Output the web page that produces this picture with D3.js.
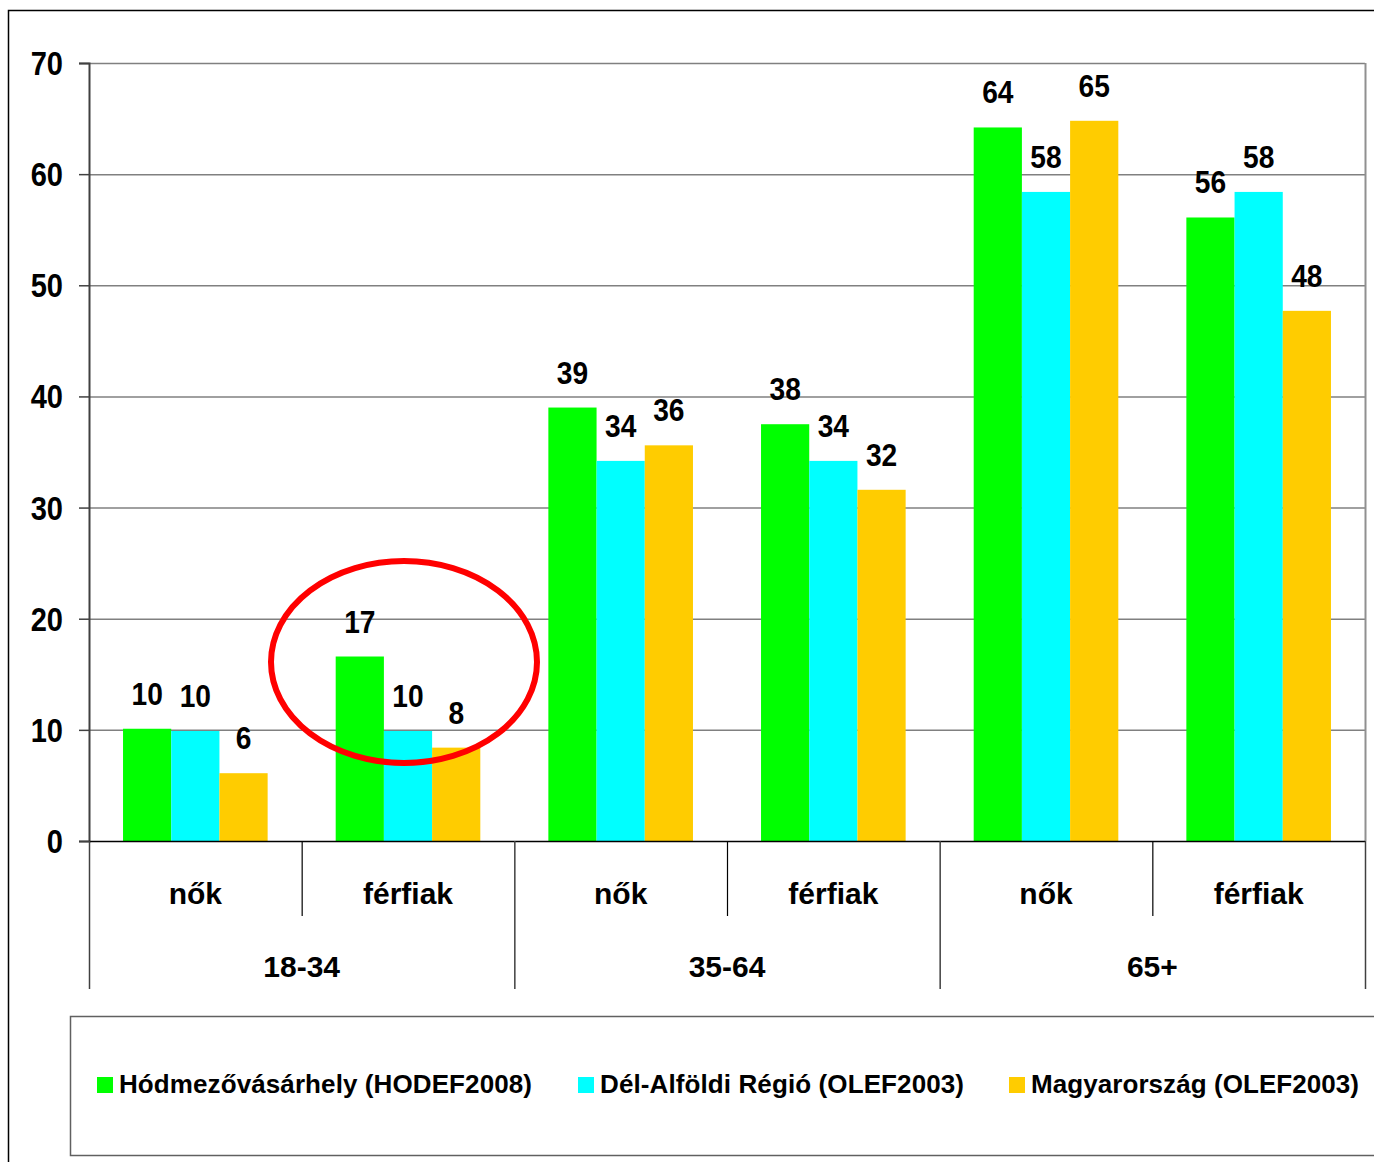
<!DOCTYPE html>
<html><head><meta charset="utf-8">
<script src="https://cdn.jsdelivr.net/npm/d3@7"></script>
<style>
html,body{margin:0;padding:0;background:#fff;}
text{font-family:"Liberation Sans",Arial,sans-serif;font-weight:bold;fill:#000;}
</style></head>
<body><svg id="c" width="1374" height="1162"></svg>
<script>
const categories = ["nők","férfiak","nők","férfiak","nők","férfiak"];
const groups = ["18-34","35-64","65+"];
const seriesNames = ["Hódmezővásárhely (HODEF2008)","Dél-Alföldi Régió (OLEF2003)","Magyarország (OLEF2003)"];
const seriesColors = ["#00ff00","#00ffff","#ffcc00"];
const hodValues = [10.1, 16.6, 39.0, 37.5, 64.2, 56.1];
const delValues = [9.9, 9.9, 34.2, 34.2, 58.4, 58.4];
const magValues = [6.1, 8.4, 35.6, 31.6, 64.8, 47.7];
const yTicks = [0,10,20,30,40,50,60,70];

const series = [hodValues, delValues, magValues];
const svg = d3.select("#c");

// outer frame
svg.append("rect").attr("x",8.5).attr("y",10.5).attr("width",1400).attr("height",1200)
  .attr("fill","none").attr("stroke","#000").attr("stroke-width",1.5);

const L=89, R=1365, T=63, B=841;
const y = d3.scaleLinear().domain([0,70]).range([B,T]);
const x = d3.scaleBand().domain(d3.range(categories.length)).range([L,R]);
const bw = x.bandwidth();
const x1 = d3.scaleBand().domain(d3.range(series.length)).range([bw*0.16, bw*0.84]);

// gridlines
svg.append("g").selectAll("line").data(yTicks.filter(t=>t>0)).join("line")
  .attr("x1",L).attr("x2",R).attr("y1",d=>y(d)+0.5).attr("y2",d=>y(d)+0.5)
  .attr("stroke","#808080").attr("stroke-width",1.5);
// right border of plot
svg.append("line").attr("x1",R+0.5).attr("x2",R+0.5).attr("y1",T).attr("y2",B)
  .attr("stroke","#909090").attr("stroke-width",2);

// bars
series.forEach((vals,si)=>{
  svg.append("g").selectAll("rect").data(vals).join("rect")
    .attr("x",(d,i)=>x(i)+x1(si)).attr("width",x1.bandwidth())
    .attr("y",d=>y(d)).attr("height",d=>B-y(d))
    .attr("fill",seriesColors[si]);
});

// y axis
const yAxis = d3.axisLeft(y).tickValues(yTicks).tickSize(10).tickPadding(16).tickFormat(d3.format("d"));
const gy = svg.append("g").attr("transform",`translate(${L},0)`).call(yAxis);
gy.select(".domain").attr("stroke","#404040").attr("stroke-width",2);
gy.selectAll(".tick line").attr("stroke","#404040").attr("stroke-width",1.5);
gy.selectAll(".tick text")
  .style("font-size","33px").style("font-family","Liberation Sans, Arial, sans-serif").style("font-weight","bold")
  .attr("fill","#000").attr("x",0).attr("dy","0.35em")
  .attr("transform","translate(-26,0) scale(0.88,1)");

// baseline
svg.append("line").attr("x1",L).attr("x2",R).attr("y1",B+0.5).attr("y2",B+0.5).attr("stroke","#000").attr("stroke-width",1.5);

// x axis category labels and separators
const xg = svg.append("g");
xg.selectAll("text.cat").data(categories).join("text").attr("class","cat")
  .attr("x",(d,i)=>x(i)+bw/2).attr("y",904).attr("text-anchor","middle")
  .style("font-size","30px").text(d=>d);
// minor separators (between categories within a group)
xg.selectAll("line.minor").data(d3.range(categories.length).filter(i=>i%2===1)).join("line")
  .attr("x1",i=>x(i)+0.5).attr("x2",i=>x(i)+0.5).attr("y1",B).attr("y2",916)
  .attr("stroke","#000").attr("stroke-width",1.2);
// group separators
const gEdges = [0,2,4,6].map(i=> i<6 ? x(i) : R);
xg.selectAll("line.major").data(gEdges).join("line")
  .attr("x1",d=>d+0.5).attr("x2",d=>d+0.5).attr("y1",B).attr("y2",989)
  .attr("stroke","#404040").attr("stroke-width",1.5);
xg.selectAll("text.grp").data(groups).join("text").attr("class","grp")
  .attr("x",(d,i)=>(x(i*2)+ (i*2+2<6? x(i*2+2):R))/2).attr("y",977).attr("text-anchor","middle")
  .style("font-size","30px").text(d=>d);

// data labels
series.forEach((vals,si)=>{
  svg.append("g").selectAll("text").data(vals).join("text")
    .attr("transform",(d,i)=>`translate(${x(i)+x1(si)+x1.bandwidth()/2},${y(d)-24}) scale(0.88,1)`)
    .attr("text-anchor","middle").style("font-size","32px")
    .text(d=>Math.round(d));
});

// red ellipse
svg.append("ellipse").attr("cx",404).attr("cy",662).attr("rx",133).attr("ry",101)
  .attr("fill","none").attr("stroke","#ff0000").attr("stroke-width",6);

// legend
svg.append("rect").attr("x",70.5).attr("y",1016.5).attr("width",1340).attr("height",139)
  .attr("fill","none").attr("stroke","#606060").attr("stroke-width",1.5);
const legX = [97, 578, 1009];
const legW = [413, 364, 328];
const lg = svg.append("g").selectAll("g").data(seriesNames).join("g")
  .attr("transform",(d,i)=>`translate(${legX[i]},0)`);
lg.append("rect").attr("x",0).attr("y",1077).attr("width",16).attr("height",16)
  .attr("fill",(d,i)=>seriesColors[i]);
lg.append("text").attr("x",22).attr("y",1093).style("font-size","26px")
  .attr("textLength",(d,i)=>legW[i]).attr("lengthAdjust","spacing").text(d=>d);
</script></body></html>
